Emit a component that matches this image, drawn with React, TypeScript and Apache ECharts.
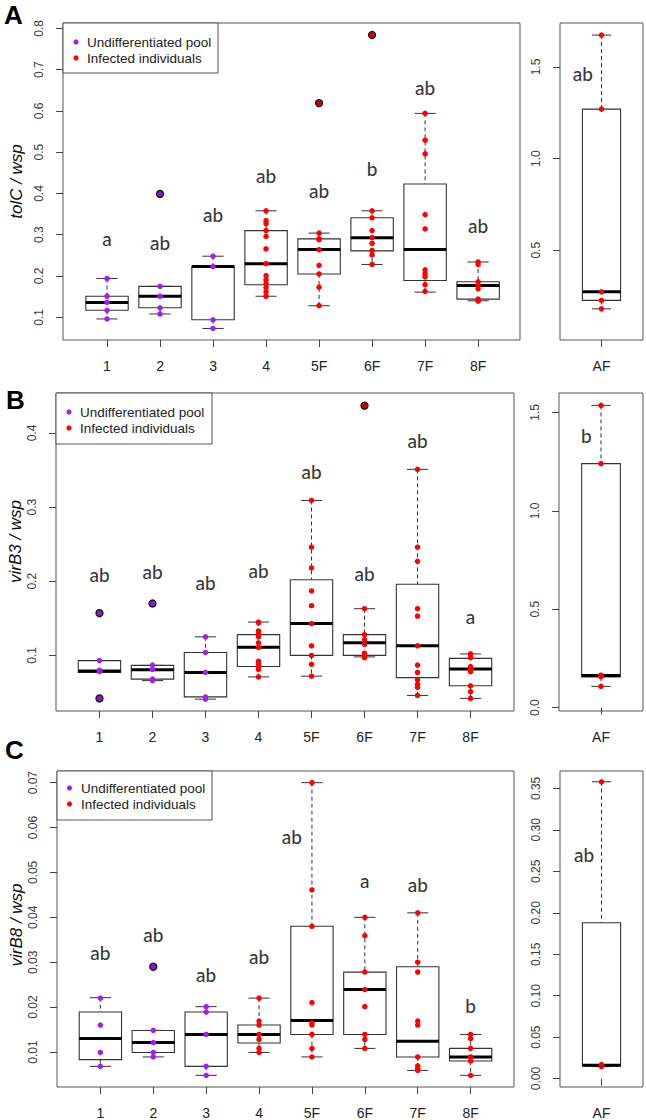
import React, { useEffect, useRef } from "react";
import * as echarts from "echarts";

// ---------- data ----------
const categories = ["1", "2", "3", "4", "5F", "6F", "7F", "8F"];
const afLabel = "AF";
const poolCount = 3; // first three categories are undifferentiated pools
const legendNames = ["Undifferentiated pool", "Infected individuals"];
const panelTags = ["A", "B", "C"];
const yTitles = ["tolC / wsp", "virB3 / wsp", "virB8 / wsp"];

// Panel A : tolC / wsp   stats = [min, q1, median, q3, max]
const tolcStats = [
  [0.096, 0.117, 0.136, 0.151, 0.194],
  [0.108, 0.123, 0.151, 0.175, 0.175],
  [0.073, 0.094, 0.223, 0.223, 0.248],
  [0.151, 0.179, 0.23, 0.31, 0.358],
  [0.128, 0.205, 0.264, 0.29, 0.304],
  [0.228, 0.261, 0.293, 0.341, 0.358],
  [0.161, 0.189, 0.264, 0.423, 0.594],
  [0.14, 0.144, 0.177, 0.186, 0.234],
];
const tolcPoints = [
  [0.194, 0.151, 0.136, 0.117, 0.096],
  [0.175, 0.151, 0.123, 0.108],
  [0.248, 0.223, 0.094, 0.073],
  [0.358, 0.334, 0.327, 0.31, 0.296, 0.266, 0.23, 0.201, 0.191, 0.181, 0.172, 0.162, 0.151],
  [0.304, 0.29, 0.288, 0.264, 0.226, 0.205, 0.173, 0.128],
  [0.358, 0.341, 0.31, 0.293, 0.279, 0.262, 0.251, 0.228],
  [0.594, 0.529, 0.496, 0.349, 0.314, 0.215, 0.206, 0.198, 0.179, 0.163],
  [0.234, 0.228, 0.186, 0.177, 0.169, 0.144, 0.139],
];
const tolcOutliers = [[], [0.399], [], [], [0.619], [0.784], [], []];
const tolcLetters = ["a", "ab", "ab", "ab", "ab", "b", "ab", "ab"];
const tolcLetterX = [1, 2, 3, 4, 5, 6, 7, 8];
const tolcLetterY = [0.292, 0.281, 0.349, 0.443, 0.407, 0.46, 0.656, 0.322];
const tolcAFStats = [0.18, 0.226, 0.273, 1.27, 1.674];
const tolcAFPoints = [1.674, 1.27, 0.273, 0.226, 0.18];
const tolcAFLetter = "ab";
const tolcAFLetterXY = [0.55, 1.467];
const tolcTicks = [0.1, 0.2, 0.3, 0.4, 0.5, 0.6, 0.7, 0.8];
const tolcAFTicks = [0.5, 1.0, 1.5];

// Panel B : virB3 / wsp
const virb3Stats = [
  [0.077, 0.077, 0.079, 0.093, 0.093],
  [0.066, 0.068, 0.0805, 0.0865, 0.0865],
  [0.041, 0.044, 0.077, 0.104, 0.125],
  [0.071, 0.085, 0.111, 0.128, 0.145],
  [0.072, 0.1, 0.143, 0.202, 0.309],
  [0.098, 0.1, 0.117, 0.128, 0.163],
  [0.046, 0.07, 0.113, 0.196, 0.351],
  [0.042, 0.059, 0.0815, 0.096, 0.102],
];
const virb3Points = [
  [0.093, 0.08, 0.078],
  [0.087, 0.081, 0.068, 0.066],
  [0.125, 0.104, 0.077, 0.044, 0.041],
  [0.145, 0.144, 0.133, 0.129, 0.125, 0.117, 0.111, 0.092, 0.089, 0.085, 0.081, 0.071],
  [0.309, 0.246, 0.218, 0.187, 0.167, 0.143, 0.113, 0.1, 0.088, 0.072],
  [0.163, 0.128, 0.121, 0.115, 0.103, 0.1, 0.097],
  [0.351, 0.246, 0.227, 0.163, 0.153, 0.113, 0.087, 0.077, 0.067, 0.061, 0.057, 0.046],
  [0.102, 0.097, 0.085, 0.0815, 0.078, 0.059, 0.051, 0.042],
];
const virb3Outliers = [[0.157, 0.042], [0.17], [], [], [], [0.437], [], []];
const virb3Letters = ["ab", "ab", "ab", "ab", "ab", "ab", "ab", "a"];
const virb3LetterX = [1, 2, 3, 4, 5, 6, 7, 8];
const virb3LetterY = [0.2085, 0.2126, 0.199, 0.214, 0.348, 0.21, 0.39, 0.152];
const virb3AFStats = [0.108, 0.156, 0.163, 1.24, 1.536];
const virb3AFPoints = [1.536, 1.24, 0.165, 0.158, 0.108];
const virb3AFLetter = "b";
const virb3AFLetterXY = [0.65, 1.381];
const virb3Ticks = [0.1, 0.2, 0.3, 0.4];
const virb3AFTicks = [0.0, 0.5, 1.0, 1.5];

// Panel C : virB8 / wsp
const virb8Stats = [
  [0.0068, 0.0083, 0.013, 0.0189, 0.0221],
  [0.0089, 0.0099, 0.0121, 0.0148, 0.0148],
  [0.0048, 0.0068, 0.0139, 0.0189, 0.0201],
  [0.0099, 0.012, 0.0139, 0.016, 0.022],
  [0.0089, 0.0139, 0.017, 0.038, 0.07],
  [0.0108, 0.0139, 0.0239, 0.0278, 0.04],
  [0.0059, 0.0089, 0.0124, 0.029, 0.041],
  [0.0048, 0.008, 0.0089, 0.0108, 0.0139],
];
const virb8Points = [
  [0.022, 0.016, 0.0099, 0.0068],
  [0.0148, 0.0121, 0.0099, 0.0089],
  [0.0201, 0.0189, 0.0139, 0.0068, 0.0048],
  [0.022, 0.0169, 0.016, 0.0139, 0.0128, 0.0108, 0.0099],
  [0.07, 0.0461, 0.038, 0.021, 0.0165, 0.016, 0.0139, 0.0108, 0.0089],
  [0.04, 0.0359, 0.0278, 0.0239, 0.0201, 0.0139, 0.0128, 0.0108],
  [0.041, 0.03, 0.0278, 0.0169, 0.016, 0.0089, 0.0069, 0.0063, 0.0059],
  [0.0139, 0.013, 0.0108, 0.0089, 0.008, 0.0048],
];
const virb8Outliers = [[], [0.029], [], [], [], [], [], []];
const virb8Letters = ["ab", "ab", "ab", "ab", "ab", "a", "ab", "b"];
const virb8LetterX = [1, 2, 3, 4, 4.62, 6, 7, 8];
const virb8LetterY = [0.0321, 0.0361, 0.0272, 0.0312, 0.0579, 0.0483, 0.0474, 0.0204];
const virb8AFStats = [0.0145, 0.0152, 0.016, 0.188, 0.358];
const virb8AFPoints = [0.358, 0.017, 0.0145];
const virb8AFLetter = "ab";
const virb8AFLetterXY = [0.58, 0.27];
const virb8Ticks = [0.01, 0.02, 0.03, 0.04, 0.05, 0.06, 0.07];
const virb8AFTicks = [0.0, 0.05, 0.1, 0.15, 0.2, 0.25, 0.3, 0.35];

// ---------- layout / style ----------
const POOL = "#a020f0";
const IND = "#ff0000";
const LINE = "#333";
const FONT = "'Liberation Sans', Arial, sans-serif";

const panels = [
  {
    stats: tolcStats, points: tolcPoints, outliers: tolcOutliers,
    letters: tolcLetters, letterX: tolcLetterX, letterY: tolcLetterY,
    afStats: tolcAFStats, afPoints: tolcAFPoints, afLetter: tolcAFLetter, afLetterXY: tolcAFLetterXY,
    ticks: tolcTicks, afTicks: tolcAFTicks, digits: 1, afDigits: 1,
    grid: { left: 63, top: 23, width: 457, height: 317 },
    afGrid: { left: 560, top: 23, width: 83, height: 317 },
    xMin: 0.17, xMax: 8.79, yMin: 0.045, yMax: 0.813, afMin: 0.01, afMax: 1.74,
    legend: { x: 63, y: 23, w: 155, h: 50, mx: 76, tx: 87, y1: 42, y2: 58 },
    tag: { x: 4, y: 15 }, title: { x: 16.5, y: 181.5 },
  },
  {
    stats: virb3Stats, points: virb3Points, outliers: virb3Outliers,
    letters: virb3Letters, letterX: virb3LetterX, letterY: virb3LetterY,
    afStats: virb3AFStats, afPoints: virb3AFPoints, afLetter: virb3AFLetter, afLetterXY: virb3AFLetterXY,
    ticks: virb3Ticks, afTicks: virb3AFTicks, digits: 1, afDigits: 1,
    grid: { left: 56, top: 393, width: 458, height: 318 },
    afGrid: { left: 559, top: 393, width: 84, height: 318 },
    xMin: 0.18, xMax: 8.82, yMin: 0.025, yMax: 0.454, afMin: -0.017, afMax: 1.599,
    legend: { x: 56, y: 393, w: 156, h: 51, mx: 69, tx: 80, y1: 412, y2: 428 },
    tag: { x: 6, y: 400 }, title: { x: 15, y: 541.5 },
  },
  {
    stats: virb8Stats, points: virb8Points, outliers: virb8Outliers,
    letters: virb8Letters, letterX: virb8LetterX, letterY: virb8LetterY,
    afStats: virb8AFStats, afPoints: virb8AFPoints, afLetter: virb8AFLetter, afLetterXY: virb8AFLetterXY,
    ticks: virb8Ticks, afTicks: virb8AFTicks, digits: 2, afDigits: 2,
    grid: { left: 57, top: 771, width: 457, height: 317 },
    afGrid: { left: 560, top: 771, width: 83, height: 317 },
    xMin: 0.18, xMax: 8.82, yMin: 0.0022, yMax: 0.0726, afMin: -0.0101, afMax: 0.371,
    legend: { x: 57, y: 771, w: 155, h: 49, mx: 69.5, tx: 81, y1: 788, y2: 804 },
    tag: { x: 5, y: 750 }, title: { x: 16.5, y: 925 },
  },
];

const boxRender = (half: number) => (_params: any, api: any) => {
  const x = api.value(0);
  const mn = api.value(1), q1 = api.value(2), md = api.value(3), q3 = api.value(4), mx = api.value(5);
  const px = (dx: number) => api.coord([x + dx, md])[0];
  const py = (v: number) => api.coord([x, v])[1];
  const cx = px(0), xl = px(-half), xr = px(half), sl = px(-half / 2), sr = px(half / 2);
  const dash = { stroke: LINE, lineWidth: 1, lineDash: [4, 3] };
  const solid = { stroke: LINE, lineWidth: 1 };
  return {
    type: "group",
    children: [
      { type: "line", shape: { x1: cx, y1: py(mx), x2: cx, y2: py(q3) }, style: dash },
      { type: "line", shape: { x1: cx, y1: py(q1), x2: cx, y2: py(mn) }, style: dash },
      { type: "line", shape: { x1: sl, y1: py(mx), x2: sr, y2: py(mx) }, style: solid },
      { type: "line", shape: { x1: sl, y1: py(mn), x2: sr, y2: py(mn) }, style: solid },
      {
        type: "rect",
        shape: { x: xl, y: py(q3), width: xr - xl, height: py(q1) - py(q3) },
        style: { fill: "#fff", stroke: LINE, lineWidth: 1.1 },
      },
      { type: "line", shape: { x1: xl, y1: py(md), x2: xr, y2: py(md) }, style: { stroke: "#000", lineWidth: 3 } },
    ],
  };
};

function buildOption() {
  const grid: any[] = [];
  const xAxis: any[] = [];
  const yAxis: any[] = [];
  const series: any[] = [];
  const graphic: any[] = [];

  const tickStyle = { show: true, length: 7, lineStyle: { color: "#444", width: 1 } };
  const xLabel = { fontSize: 14, color: "#222", margin: 19, fontFamily: FONT };
  const yLabel = { fontSize: 12, color: "#3a3a3a", margin: 18, rotate: 90, fontFamily: FONT };
  const catIdx = categories.map((_, i) => i + 1);

  panels.forEach((p, k) => {
    const gi = 2 * k;
    const ai = 2 * k + 1;
    const gridBase = { show: true, borderColor: "#555", borderWidth: 1, backgroundColor: "transparent" };
    grid.push({ ...gridBase, ...p.grid });
    grid.push({ ...gridBase, ...p.afGrid });

    xAxis.push({
      gridIndex: gi, type: "value", min: p.xMin, max: p.xMax,
      axisLine: { show: false }, splitLine: { show: false },
      axisTick: { ...tickStyle, customValues: catIdx },
      axisLabel: { ...xLabel, customValues: catIdx, formatter: (v: number) => categories[Math.round(v) - 1] },
    });
    xAxis.push({
      gridIndex: ai, type: "value", min: 0, max: 2,
      axisLine: { show: false }, splitLine: { show: false },
      axisTick: { ...tickStyle, customValues: [1] },
      axisLabel: { ...xLabel, customValues: [1], formatter: () => afLabel },
    });
    yAxis.push({
      gridIndex: gi, type: "value", min: p.yMin, max: p.yMax,
      axisLine: { show: false }, splitLine: { show: false },
      axisTick: { ...tickStyle, customValues: p.ticks },
      axisLabel: { ...yLabel, customValues: p.ticks, formatter: (v: number) => v.toFixed(p.digits) },
    });
    yAxis.push({
      gridIndex: ai, type: "value", min: p.afMin, max: p.afMax,
      axisLine: { show: false }, splitLine: { show: false },
      axisTick: { ...tickStyle, customValues: p.afTicks },
      axisLabel: { ...yLabel, customValues: p.afTicks, formatter: (v: number) => v.toFixed(p.afDigits) },
    });

    // boxes
    series.push({
      type: "custom", xAxisIndex: gi, yAxisIndex: gi, silent: true, z: 2,
      renderItem: boxRender(0.4),
      encode: { x: 0, y: [1, 2, 3, 4, 5] },
      data: p.stats.map((s, i) => [i + 1, ...s]),
    });
    series.push({
      type: "custom", xAxisIndex: ai, yAxisIndex: ai, silent: true, z: 2,
      renderItem: boxRender(0.46),
      encode: { x: 0, y: [1, 2, 3, 4, 5] },
      data: [[1, ...p.afStats]],
    });

    // outliers (black ring)
    const outData: any[] = [];
    p.outliers.forEach((arr, i) =>
      arr.forEach((v) =>
        outData.push({ value: [i + 1, v], itemStyle: { color: i < poolCount ? "#8a1ac8" : "#d00000" } })
      )
    );
    series.push({
      type: "scatter", xAxisIndex: gi, yAxisIndex: gi, silent: true, z: 4,
      symbol: "circle", symbolSize: 7,
      itemStyle: { borderColor: "#111", borderWidth: 1.3, opacity: 1 },
      data: outData,
    });

    // points
    const poolData: number[][] = [];
    const indData: number[][] = [];
    p.points.forEach((arr, i) =>
      arr.forEach((v) => (i < poolCount ? poolData : indData).push([i + 1, v]))
    );
    series.push({
      name: legendNames[0], type: "scatter", xAxisIndex: gi, yAxisIndex: gi, silent: true, z: 5,
      symbol: "circle", symbolSize: 5.5, itemStyle: { color: POOL, opacity: 1 }, data: poolData,
    });
    series.push({
      name: legendNames[1], type: "scatter", xAxisIndex: gi, yAxisIndex: gi, silent: true, z: 5,
      symbol: "circle", symbolSize: 5.5, itemStyle: { color: IND, opacity: 1 }, data: indData,
    });
    series.push({
      name: legendNames[1], type: "scatter", xAxisIndex: ai, yAxisIndex: ai, silent: true, z: 5,
      symbol: "circle", symbolSize: 5.5, itemStyle: { color: IND, opacity: 1 },
      data: p.afPoints.map((v) => [1, v]),
    });

    // letters
    const letterLabel = {
      show: true, position: "inside", formatter: "{b}",
      fontSize: 19, fontFamily: "Lato, 'Open Sans', sans-serif", color: "#000", fontWeight: 500,
    };
    series.push({
      type: "scatter", xAxisIndex: gi, yAxisIndex: gi, silent: true, z: 6,
      symbol: "circle", symbolSize: 1, itemStyle: { color: "rgba(0,0,0,0)" }, label: letterLabel,
      data: p.letters.map((t, i) => ({ name: t, value: [p.letterX[i], p.letterY[i]] })),
    });
    series.push({
      type: "scatter", xAxisIndex: ai, yAxisIndex: ai, silent: true, z: 6,
      symbol: "circle", symbolSize: 1, itemStyle: { color: "rgba(0,0,0,0)" }, label: letterLabel,
      data: [{ name: p.afLetter, value: p.afLetterXY }],
    });

    // legend box
    const L = p.legend;
    graphic.push({
      type: "rect", z: 100, silent: true,
      shape: { x: L.x, y: L.y, width: L.w, height: L.h },
      style: { fill: "#fff", stroke: "#555", lineWidth: 1 },
    });
    [L.y1, L.y2].forEach((yy, j) => {
      graphic.push({
        type: "circle", z: 101, silent: true,
        shape: { cx: L.mx, cy: yy, r: 2.6 },
        style: { fill: j === 0 ? POOL : IND },
      });
      graphic.push({
        type: "text", z: 101, silent: true, x: L.tx, y: yy,
        style: {
          text: legendNames[j], fill: "#222", fontSize: 13.5, fontFamily: FONT,
          textAlign: "left", textVerticalAlign: "middle", align: "left", verticalAlign: "middle",
        },
      });
    });

    // panel tag
    graphic.push({
      type: "text", z: 101, silent: true, x: p.tag.x, y: p.tag.y,
      style: {
        text: panelTags[k], fill: "#000", fontSize: 26, fontWeight: "bold", fontFamily: FONT,
        textAlign: "left", textVerticalAlign: "middle", align: "left", verticalAlign: "middle",
      },
    });
    // y title
    graphic.push({
      type: "text", z: 101, silent: true, x: p.title.x, y: p.title.y, rotation: Math.PI / 2,
      style: {
        text: yTitles[k], fill: "#111", fontSize: 17, fontStyle: "italic", fontFamily: FONT,
        textAlign: "center", textVerticalAlign: "middle", align: "center", verticalAlign: "middle",
      },
    });
  });

  return { animation: false, backgroundColor: "#fff", grid, xAxis, yAxis, series, graphic };
}

export default function App() {
  const ref = useRef<HTMLDivElement>(null);
  useEffect(() => {
    if (!ref.current) return;
    const chart = echarts.init(ref.current, undefined, { renderer: "svg" });
    chart.setOption(buildOption() as any);
    return () => chart.dispose();
  }, []);
  return (
    <div
      ref={ref}
      style={{ position: "absolute", left: 0, top: 0, width: 646, height: 1120, background: "#fff" }}
    />
  );
}
